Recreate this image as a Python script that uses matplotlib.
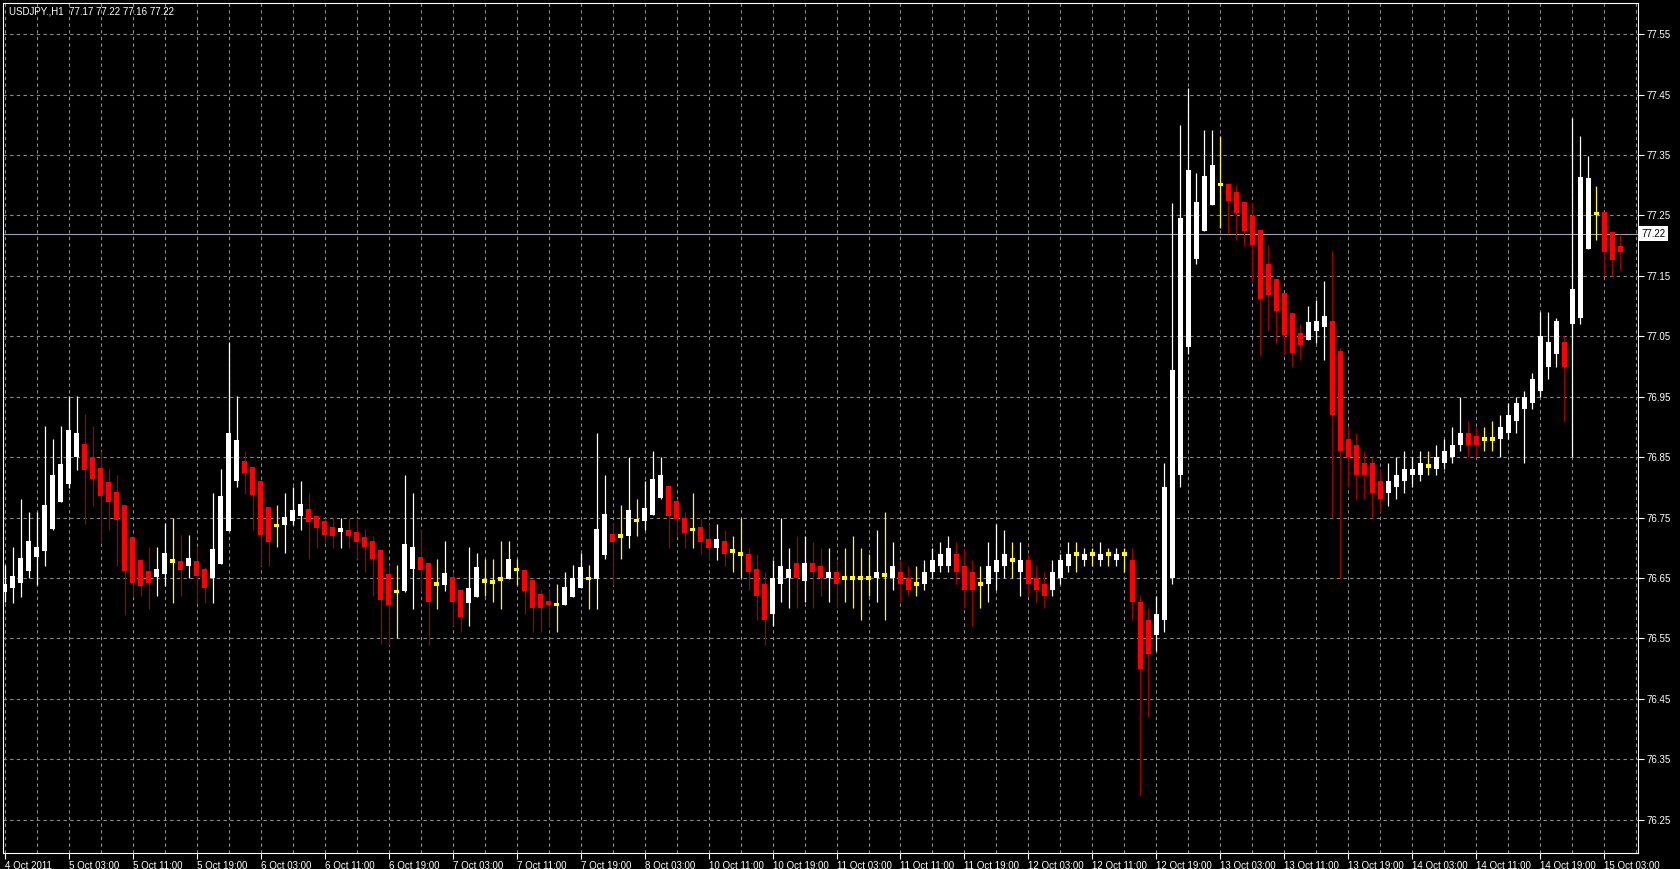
import matplotlib
matplotlib.use("Agg")
import matplotlib.pyplot as plt
import matplotlib.transforms as transforms
import numpy as np

plt.rcParams["font.family"] = ["Liberation Sans", "DejaVu Sans"]

# judul chart (simbol, timeframe, O H L C terakhir)
symbol_info = "USDJPY.,H1  77.17 77.22 77.16 77.22"
bid = 77.22

# data candle H1, satu nilai per bar
opens = [
    76.627, 76.634, 76.642, 76.662, 76.685, 76.694, 76.731, 76.775, 76.806, 76.851,
    76.872, 76.850, 76.832, 76.809, 76.793, 76.771, 76.718, 76.680, 76.661, 76.651,
    76.657, 76.678, 76.678, 76.670, 76.678, 76.665, 76.650, 76.673, 76.728, 76.810,
    76.844, 76.834, 76.811, 76.768, 76.737, 76.737, 76.744, 76.753, 76.765, 76.753,
    76.744, 76.734, 76.726, 76.730, 76.726, 76.718, 76.712, 76.697, 76.657, 76.628,
    76.628, 76.665, 76.684, 76.675, 76.640, 76.639, 76.651, 76.630, 76.608, 76.619,
    76.645, 76.643, 76.648, 76.648, 76.664, 76.664, 76.647, 76.624, 76.612, 76.606,
    76.605, 76.619, 76.634, 76.649, 76.648, 76.688, 76.723, 76.720, 76.720, 76.745,
    76.745, 76.755, 76.782, 76.803, 76.778, 76.750, 76.730, 76.735, 76.715, 76.700,
    76.712, 76.695, 76.690, 76.690, 76.665, 76.640, 76.590, 76.640, 76.650, 76.675,
    76.645, 76.675, 76.670, 76.650, 76.660, 76.650, 76.650, 76.650, 76.650, 76.650,
    76.655, 76.650, 76.660, 76.650, 76.640, 76.640, 76.660, 76.670, 76.670, 76.690,
    76.670, 76.660, 76.640, 76.640, 76.660, 76.670, 76.680, 76.660, 76.680, 76.650,
    76.640, 76.630, 76.650, 76.670, 76.690, 76.680, 76.690, 76.680, 76.690, 76.680,
    76.690, 76.680, 76.610, 76.580, 76.555, 76.580, 76.650, 76.820, 77.033, 77.178,
    77.224, 77.268, 77.301, 77.302, 77.288, 77.272, 77.249, 77.226, 77.170, 77.145,
    77.121, 77.088, 77.056, 77.044, 77.058, 77.065, 77.075, 77.025, 76.880, 76.870,
    76.840, 76.840, 76.810, 76.790, 76.800, 76.810, 76.820, 76.820, 76.835, 76.830,
    76.840, 76.850, 76.870, 76.890, 76.885, 76.880, 76.880, 76.880, 76.890, 76.910,
    76.930, 76.940, 76.960, 77.000, 77.020, 77.040, 77.070, 77.080, 77.194, 77.253,
    77.255, 77.222, 77.200,
]
highs = [
    76.672, 76.701, 76.780, 76.760, 76.760, 76.901, 76.880, 76.901, 76.951, 76.951,
    76.921, 76.901, 76.860, 76.830, 76.821, 76.771, 76.718, 76.680, 76.701, 76.701,
    76.741, 76.750, 76.721, 76.721, 76.701, 76.668, 76.791, 76.830, 77.041, 76.951,
    76.860, 76.834, 76.811, 76.768, 76.771, 76.791, 76.800, 76.811, 76.791, 76.753,
    76.750, 76.750, 76.750, 76.750, 76.750, 76.731, 76.720, 76.697, 76.672, 76.672,
    76.821, 76.791, 76.731, 76.675, 76.682, 76.712, 76.660, 76.630, 76.701, 76.691,
    76.682, 76.682, 76.712, 76.712, 76.682, 76.664, 76.647, 76.630, 76.630, 76.640,
    76.660, 76.672, 76.692, 76.672, 76.890, 76.821, 76.741, 76.771, 76.850, 76.781,
    76.811, 76.860, 76.850, 76.803, 76.781, 76.760, 76.790, 76.750, 76.740, 76.740,
    76.730, 76.720, 76.750, 76.700, 76.690, 76.660, 76.680, 76.750, 76.700, 76.720,
    76.720, 76.710, 76.700, 76.700, 76.680, 76.700, 76.720, 76.700, 76.690, 76.730,
    76.760, 76.710, 76.680, 76.670, 76.670, 76.680, 76.700, 76.710, 76.720, 76.710,
    76.700, 76.680, 76.670, 76.710, 76.740, 76.730, 76.710, 76.710, 76.690, 76.670,
    76.660, 76.680, 76.690, 76.710, 76.710, 76.700, 76.700, 76.710, 76.700, 76.700,
    76.700, 76.700, 76.620, 76.600, 76.620, 76.840, 77.270, 77.400, 77.461, 77.320,
    77.391, 77.391, 77.381, 77.302, 77.300, 77.272, 77.270, 77.226, 77.201, 77.145,
    77.121, 77.088, 77.070, 77.100, 77.110, 77.141, 77.191, 77.030, 76.900, 76.890,
    76.860, 76.850, 76.830, 76.840, 76.850, 76.860, 76.850, 76.860, 76.860, 76.870,
    76.880, 76.900, 76.950, 76.910, 76.900, 76.900, 76.910, 76.920, 76.940, 76.950,
    76.960, 76.990, 77.090, 77.090, 77.080, 77.050, 77.411, 77.381, 77.349, 77.299,
    77.255, 77.222, 77.219,
]
lows = [
    76.610, 76.609, 76.619, 76.650, 76.638, 76.670, 76.730, 76.775, 76.799, 76.829,
    76.739, 76.770, 76.710, 76.730, 76.670, 76.589, 76.618, 76.620, 76.599, 76.620,
    76.636, 76.609, 76.620, 76.650, 76.609, 76.609, 76.609, 76.673, 76.728, 76.800,
    76.789, 76.730, 76.670, 76.670, 76.701, 76.691, 76.738, 76.730, 76.681, 76.700,
    76.709, 76.700, 76.700, 76.700, 76.681, 76.660, 76.620, 76.541, 76.539, 76.550,
    76.627, 76.599, 76.629, 76.540, 76.599, 76.629, 76.570, 76.560, 76.570, 76.619,
    76.620, 76.610, 76.599, 76.648, 76.638, 76.590, 76.560, 76.560, 76.569, 76.560,
    76.605, 76.619, 76.634, 76.599, 76.599, 76.681, 76.639, 76.681, 76.700, 76.720,
    76.729, 76.755, 76.780, 76.700, 76.720, 76.700, 76.700, 76.690, 76.680, 76.680,
    76.670, 76.660, 76.650, 76.630, 76.580, 76.540, 76.570, 76.610, 76.600, 76.600,
    76.610, 76.600, 76.620, 76.610, 76.600, 76.610, 76.600, 76.580, 76.620, 76.610,
    76.580, 76.630, 76.610, 76.620, 76.620, 76.630, 76.650, 76.660, 76.660, 76.640,
    76.600, 76.570, 76.600, 76.610, 76.630, 76.650, 76.650, 76.620, 76.620, 76.610,
    76.600, 76.620, 76.640, 76.660, 76.660, 76.670, 76.670, 76.670, 76.670, 76.670,
    76.660, 76.580, 76.290, 76.420, 76.530, 76.560, 76.640, 76.800, 77.020, 77.170,
    77.224, 77.268, 77.229, 77.219, 77.209, 77.200, 77.140, 77.019, 77.059, 77.039,
    77.019, 76.999, 77.010, 77.044, 77.039, 77.010, 76.750, 76.650, 76.800, 76.780,
    76.780, 76.750, 76.760, 76.770, 76.780, 76.790, 76.800, 76.810, 76.820, 76.820,
    76.830, 76.840, 76.860, 76.850, 76.850, 76.860, 76.860, 76.850, 76.880, 76.890,
    76.840, 76.930, 76.950, 76.980, 77.000, 76.910, 76.850, 77.070, 77.194, 77.210,
    77.150, 77.149, 77.160,
]
closes = [
    76.640, 76.653, 76.683, 76.711, 76.701, 76.771, 76.821, 76.839, 76.895, 76.890,
    76.828, 76.814, 76.785, 76.776, 76.746, 76.662, 76.642, 76.637, 76.642, 76.665,
    76.691, 76.678, 76.664, 76.683, 76.653, 76.634, 76.698, 76.786, 76.890, 76.878,
    76.823, 76.787, 76.721, 76.710, 76.737, 76.751, 76.763, 76.773, 76.742, 76.733,
    76.722, 76.720, 76.733, 76.720, 76.710, 76.702, 76.682, 76.614, 76.605, 76.628,
    76.707, 76.702, 76.664, 76.610, 76.640, 76.659, 76.610, 76.585, 76.634, 76.668,
    76.645, 76.643, 76.648, 76.682, 76.664, 76.628, 76.600, 76.600, 76.605, 76.606,
    76.635, 76.650, 76.669, 76.649, 76.731, 76.756, 76.710, 76.720, 76.763, 76.745,
    76.766, 76.814, 76.821, 76.752, 76.747, 76.725, 76.730, 76.710, 76.700, 76.715,
    76.690, 76.695, 76.690, 76.660, 76.620, 76.580, 76.650, 76.670, 76.665, 76.650,
    76.675, 76.660, 76.650, 76.660, 76.640, 76.650, 76.650, 76.650, 76.650, 76.660,
    76.655, 76.670, 76.640, 76.630, 76.640, 76.660, 76.680, 76.690, 76.700, 76.660,
    76.630, 76.630, 76.640, 76.670, 76.680, 76.690, 76.680, 76.680, 76.640, 76.630,
    76.620, 76.660, 76.680, 76.690, 76.690, 76.690, 76.690, 76.690, 76.690, 76.690,
    76.690, 76.610, 76.500, 76.525, 76.590, 76.800, 76.994, 77.245, 77.325, 77.273,
    77.315, 77.334, 77.301, 77.274, 77.254, 77.224, 77.201, 77.112, 77.118, 77.092,
    77.052, 77.023, 77.035, 77.074, 77.075, 77.083, 76.920, 76.860, 76.850, 76.820,
    76.820, 76.790, 76.780, 76.810, 76.820, 76.830, 76.830, 76.840, 76.835, 76.850,
    76.860, 76.870, 76.890, 76.870, 76.870, 76.880, 76.880, 76.900, 76.920, 76.940,
    76.950, 76.980, 77.050, 77.040, 77.075, 77.000, 77.128, 77.313, 77.312, 77.253,
    77.190, 77.176, 77.190,
]

# label waktu, satu label tiap 8 bar
time_labels = [
    "4 Oct 2011", "5 Oct 03:00", "5 Oct 11:00", "5 Oct 19:00", "6 Oct 03:00",
    "6 Oct 11:00", "6 Oct 19:00", "7 Oct 03:00", "7 Oct 11:00", "7 Oct 19:00",
    "8 Oct 03:00", "10 Oct 11:00", "10 Oct 19:00", "11 Oct 03:00", "11 Oct 11:00",
    "11 Oct 19:00", "12 Oct 03:00", "12 Oct 11:00", "12 Oct 19:00", "13 Oct 03:00",
    "13 Oct 11:00", "13 Oct 19:00", "14 Oct 03:00", "14 Oct 11:00", "14 Oct 19:00",
    "15 Oct 03:00",
]
price_levels = [76.25, 76.35, 76.45, 76.55, 76.65, 76.75, 76.85, 76.95,
                77.05, 77.15, 77.25, 77.35, 77.45, 77.55]

o = np.array(opens)
h = np.array(highs)
l = np.array(lows)
c = np.array(closes)
x = np.arange(len(o))
flat = np.isclose(o, c)
up = (c > o) & ~flat
down = (c < o) & ~flat

W, H = 1680, 869
fig = plt.figure(figsize=(W / 100, H / 100), dpi=100, facecolor="black")
ax = fig.add_axes([2.7 / W, 16 / H, (1638 - 2.7) / W, (853 - 2.7) / H])
ax.set_facecolor("black")

# grid putus-putus
grid_kw = dict(color="#8c8c8c", lw=0.8, ls=(0, (3, 3)), zorder=0)
for gx in range(0, 205, 4):
    ax.axvline(gx, **grid_kw)
for p in price_levels:
    ax.axhline(p, **grid_kw)
ax.axhline(bid, color="#9aa3ad", lw=0.8, zorder=1)

# sumbu (wick) dan badan candle
ax.vlines(x[up], l[up], h[up], color="white", lw=0.9, zorder=2)
ax.vlines(x[down], l[down], h[down], color="#a00000", lw=0.9, zorder=2)
ax.vlines(x[flat], l[flat], h[flat], color="#ffff00", lw=0.9, zorder=2)
bw = 0.62
ax.bar(x[up], c[up] - o[up], bottom=o[up], width=bw, color="white", lw=0, zorder=3)
ax.bar(x[down], o[down] - c[down], bottom=c[down], width=bw, color="#ff0000", lw=0, zorder=3)
ax.bar(x[flat], 0.006, bottom=o[flat] - 0.003, width=bw, color="#ffff00", lw=0, zorder=3)

ax.set_xlim(-0.24, 204.2)
ax.set_ylim(76.195, 77.602)

ax.set_xticks(np.arange(0, 8 * len(time_labels), 8))
ax.set_xticklabels(time_labels, ha="left")
shift = transforms.ScaledTranslation(2 / 100, 0, fig.dpi_scale_trans)
for lab in ax.get_xticklabels():
    lab.set_transform(lab.get_transform() + shift)
ax.tick_params(axis="x", colors="white", length=4, width=0.8, pad=1.5, labelsize=7)

ax.yaxis.tick_right()
ax.set_yticks(price_levels)
ax.set_yticklabels([f"{p:.2f}" for p in price_levels])
ax.tick_params(axis="y", colors="white", length=4, width=0.8, pad=2, labelsize=7)

for s in ax.spines.values():
    s.set_color("white")
    s.set_linewidth(0.8)

# label harga bid di kanan
trans = transforms.blended_transform_factory(ax.transAxes, ax.transData)
ax.text(1.002, bid, f"{bid:.2f}", transform=trans, ha="left", va="center",
        fontsize=7, color="black",
        bbox=dict(boxstyle="square,pad=0.25", fc="white", ec="none"))

fig.text(9 / W, 1 - 12 / H, symbol_info, color="white", fontsize=7,
         ha="left", va="center")

fig.savefig("out.png", dpi=100, facecolor="black")
